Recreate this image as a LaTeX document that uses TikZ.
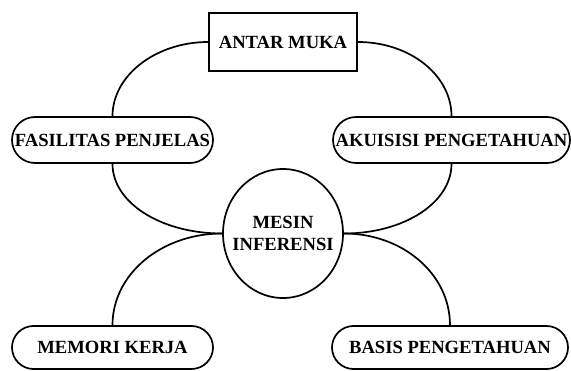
\documentclass[tikz,border=0pt]{standalone}
\usepackage{fontspec}
\setmainfont{Liberation Serif}
\usetikzlibrary{shapes.misc,shapes.geometric}
\begin{document}
\begin{tikzpicture}[x=1pt,y=1pt,
  every node/.style={font=\fontsize{18.6}{22}\selectfont\bfseries, line width=1.7pt, inner sep=0pt},
  boxnode/.style={draw, rectangle, minimum width=148pt, minimum height=58pt},
  pill/.style={draw, rounded rectangle, minimum height=46pt},
  pillb/.style={draw, rounded rectangle, minimum height=43pt},
  engine/.style={draw, ellipse, inner xsep=-12pt, minimum width=120pt, minimum height=129pt, align=center},
  link/.style={line width=1.7pt}]
\useasboundingbox (0,0) rectangle (571,370);
\node[boxnode] (antar) at (283,328) {ANTAR MUKA};
\node[pill, minimum width=201pt] (fas) at (112.5,230) {FASILITAS PENJELAS};
\node[pill, minimum width=237pt] (aku) at (451.5,230) {AKUISISI PENGETAHUAN};
\node[engine] (mesin) at (283,136.5) {MESIN\\INFERENSI};
\node[pillb, minimum width=201pt] (memori) at (112.5,22.5) {MEMORI KERJA};
\node[pillb, minimum width=236pt] (basis) at (450,22.5) {BASIS PENGETAHUAN};
\draw[link] (antar.west) .. controls +(-52,0) and +(0,41) .. (fas.north);
\draw[link] (antar.east) .. controls +(52,0) and +(0,41) .. (aku.north);
\draw[link] (fas.south) .. controls +(0,-39) and +(-61,0) .. (mesin.west);
\draw[link] (aku.south) .. controls +(0,-39) and +(60,0) .. (mesin.east);
\draw[link] (memori.north) .. controls +(0,51) and +(-61,0) .. (mesin.west);
\draw[link] (basis.north) .. controls +(0,51) and +(59,0) .. (mesin.east);
\end{tikzpicture}
\end{document}
